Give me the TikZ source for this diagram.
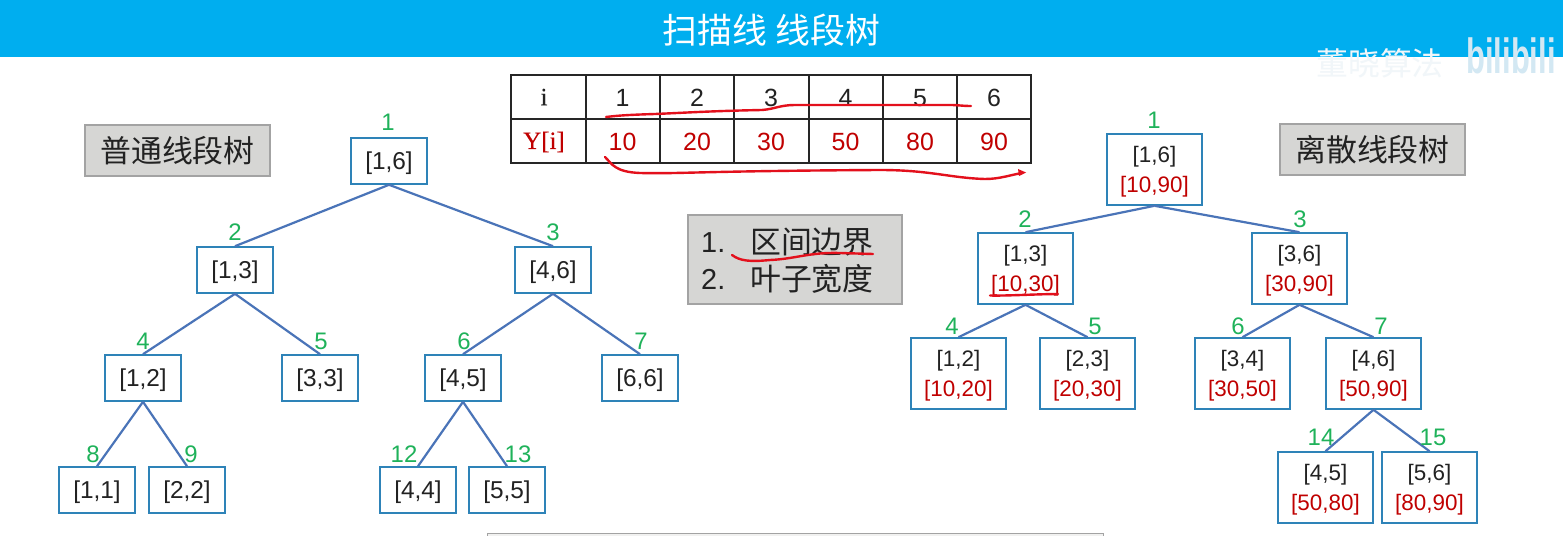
\documentclass[tikz,border=0pt]{standalone}
\usepackage{fontspec}
\setmainfont{Liberation Sans}
\newfontfamily\cjk{Noto Sans CJK SC}
\newfontfamily\serifb[FakeBold=0.35]{Liberation Serif}
\definecolor{barblue}{HTML}{00AEEF}
\definecolor{boxblue}{HTML}{2E83B8}
\definecolor{edgeblue}{HTML}{4A74B8}
\definecolor{darkred}{HTML}{C00000}
\definecolor{inkred}{HTML}{E3101C}
\definecolor{numgreen}{HTML}{1FB25A}
\definecolor{labelgray}{HTML}{D6D6D4}
\definecolor{labelline}{HTML}{A3A3A3}
\definecolor{txt}{HTML}{222222}
\definecolor{wmpale}{HTML}{F1F6F9}
\definecolor{logopale}{HTML}{D3E8F3}
\tikzset{
  x=1bp,y=-1bp,
  treebox/.style={draw=boxblue,line width=1.6bp,fill=white,inner sep=0pt,align=center,text=txt},
  smallbox/.style={treebox,minimum width=76bp,minimum height=46bp,font=\fontsize{24.5}{30}\selectfont},
  bigbox/.style={treebox,minimum width=95bp,minimum height=71bp,font=\fontsize{22.5}{30}\selectfont},
  num/.style={text=numgreen,inner sep=0pt,font=\fontsize{24}{28}\selectfont},
  edge/.style={draw=edgeblue,line width=2.2bp},
  graylabel/.style={draw=labelline,line width=1.2bp,fill=labelgray,inner sep=0pt,text=txt,font=\cjk\fontsize{31}{37}\selectfont},
  cell/.style={inner sep=0pt,text=txt,font=\fontsize{25}{30}\selectfont},
  redcell/.style={cell,text=darkred},
  tline/.style={draw=black!85,line width=1.3bp},
  ink/.style={draw=inkred,line width=2.4bp,line cap=round,line join=round},
}
\newcommand{\tl}[1]{\raisebox{-2.5bp}[\height][\depth]{#1}}
\newcommand{\rng}[1]{\raisebox{-2.5bp}[\height][\depth]{\textcolor{darkred}{#1}}}
\begin{document}
\begin{tikzpicture}
\useasboundingbox (0,0) rectangle (1563,536);
\fill[white] (0,0) rectangle (1563,536);
% title bar
\fill[barblue] (0,0) rectangle (1563,57);
\node[text=white,inner sep=0pt,font=\cjk\fontsize{35}{40}\selectfont] (title) at (771.5,30) {扫描线 线段树};
% watermark
\node[text=wmpale,inner sep=0pt,font=\cjk\fontsize{32}{38}\selectfont] (wm) at (1380,63) {董晓算法};
\node[text=logopale,inner sep=0pt,anchor=center,yscale=1.6,font=\bfseries\fontsize{31}{36}\selectfont] (bili) at (1511,56) {bilibili};
% bottom box
\node[draw=labelline,line width=1.2bp,fill=labelgray!35,minimum width=616bp,minimum height=20bp,inner sep=0pt,anchor=north west] (bottom) at (486.5,532.5) {};
% side labels
\node[graylabel,minimum width=185bp,minimum height=51bp] (lblA) at (177.5,150.5) {普通线段树};
\node[graylabel,minimum width=185bp,minimum height=51bp] (lblB) at (1372.5,149.5) {离散线段树};
\node[graylabel,minimum width=214bp,minimum height=89bp] (lblC) at (795,259.5) {};
\node[inner sep=0pt,anchor=west,text=txt,font=\fontsize{29}{34}\selectfont] (n1) at (701,243) {1.};
\node[inner sep=0pt,anchor=west,text=txt,font=\fontsize{29}{34}\selectfont] (n2) at (701,279) {2.};
\node[inner sep=0pt,anchor=west,text=txt,font=\cjk\fontsize{31}{37}\selectfont] (t1) at (750,242) {区间边界};
\node[inner sep=0pt,anchor=west,text=txt,font=\cjk\fontsize{31}{37}\selectfont] (t2) at (750,279) {叶子宽度};
% table
\draw[tline] (511,75) rectangle (1031,163);
\draw[tline] (511,119) -- (1031,119);
\foreach \xx in {586,660,734,809,883,957} \draw[tline] (\xx,75) -- (\xx,163);
\node[cell,font=\serifb\fontsize{25}{30}\selectfont] (hi) at (544,97) {i};
\node[redcell,font=\serifb\fontsize{25}{30}\selectfont] (hy) at (544,142) {Y[i]};
\foreach \i/\v/\xx in {1/10/622.5,2/20/697,3/30/771,4/50/845.5,5/80/920,6/90/994}{
  \node[cell] (c\i) at (\xx,98) {\i};
  \node[redcell] (v\i) at (\xx,142) {\v};
}
% left tree
\node[smallbox] (a1) at (389,161) {\tl{[1,6]}};
\node[smallbox] (a2) at (235,270) {\tl{[1,3]}};
\node[smallbox] (a3) at (553,270) {\tl{[4,6]}};
\node[smallbox] (a4) at (143,378) {\tl{[1,2]}};
\node[smallbox] (a5) at (320,378) {\tl{[3,3]}};
\node[smallbox] (a6) at (463,378) {\tl{[4,5]}};
\node[smallbox] (a7) at (640,378) {\tl{[6,6]}};
\node[smallbox] (a8) at (97,490) {\tl{[1,1]}};
\node[smallbox] (a9) at (187,490) {\tl{[2,2]}};
\node[smallbox] (a12) at (418,490) {\tl{[4,4]}};
\node[smallbox] (a13) at (507,490) {\tl{[5,5]}};
\foreach \p/\c in {a1/a2,a1/a3,a2/a4,a2/a5,a3/a6,a3/a7,a4/a8,a4/a9,a6/a12,a6/a13}
  \draw[edge] (\p.south) -- (\c.north);
\node[num] (na1) at (388,122) {1};
\node[num] (na2) at (235,232) {2};
\node[num] (na3) at (553,232) {3};
\node[num] (na4) at (143,341) {4};
\node[num] (na5) at (321,341) {5};
\node[num] (na6) at (464,341) {6};
\node[num] (na7) at (641,341) {7};
\node[num] (na8) at (93,454) {8};
\node[num] (na9) at (191,454) {9};
\node[num] (na12) at (404,454) {12};
\node[num] (na13) at (518,454) {13};
% right tree
\node[bigbox] (b1) at (1154.5,169.5) {\tl{[1,6]}\\\rng{[10,90]}};
\node[bigbox] (b2) at (1025.5,268.5) {\tl{[1,3]}\\\rng{[10,30]}};
\node[bigbox] (b3) at (1299.5,268.5) {\tl{[3,6]}\\\rng{[30,90]}};
\node[bigbox] (b4) at (958.5,373.5) {\tl{[1,2]}\\\rng{[10,20]}};
\node[bigbox] (b5) at (1087.5,373.5) {\tl{[2,3]}\\\rng{[20,30]}};
\node[bigbox] (b6) at (1242.5,373.5) {\tl{[3,4]}\\\rng{[30,50]}};
\node[bigbox] (b7) at (1373.5,373.5) {\tl{[4,6]}\\\rng{[50,90]}};
\node[bigbox] (b14) at (1325.5,487.5) {\tl{[4,5]}\\\rng{[50,80]}};
\node[bigbox] (b15) at (1429.5,487.5) {\tl{[5,6]}\\\rng{[80,90]}};
\foreach \p/\c in {b1/b2,b1/b3,b2/b4,b2/b5,b3/b6,b3/b7,b7/b14,b7/b15}
  \draw[edge] (\p.south) -- (\c.north);
\node[num] (nb1) at (1154,120) {1};
\node[num] (nb2) at (1025,219) {2};
\node[num] (nb3) at (1300,219) {3};
\node[num] (nb4) at (952,326) {4};
\node[num] (nb5) at (1095,326) {5};
\node[num] (nb6) at (1238,326) {6};
\node[num] (nb7) at (1381,326) {7};
\node[num] (nb14) at (1321,437) {14};
\node[num] (nb15) at (1433,437) {15};
% red handwriting
\draw[ink] (606,117) .. controls (615,116) and (622,115) .. (655,114) .. controls (680,113) and (710,111) .. (762,110) .. controls (775,109) and (780,105) .. (795,105) -- (950,105) .. controls (958,105) and (962,106) .. (971,106);
\draw[ink] (605,157) .. controls (612,164) and (615,172) .. (640,173) .. controls (680,174) and (700,171) .. (880,170) .. controls (930,170) and (950,178) .. (985,179) .. controls (1000,179) and (1010,175) .. (1022,173);
\fill[inkred] (1026,172.5) -- (1018,169) -- (1019,176) -- cycle;
\draw[ink] (732,255) .. controls (740,261) and (750,262) .. (770,260) .. controls (795,259) and (810,252) .. (840,253) -- (873,254);
\draw[ink] (990,295.5) .. controls (1005,296) and (1040,294) .. (1058,294);
\end{tikzpicture}
\end{document}
